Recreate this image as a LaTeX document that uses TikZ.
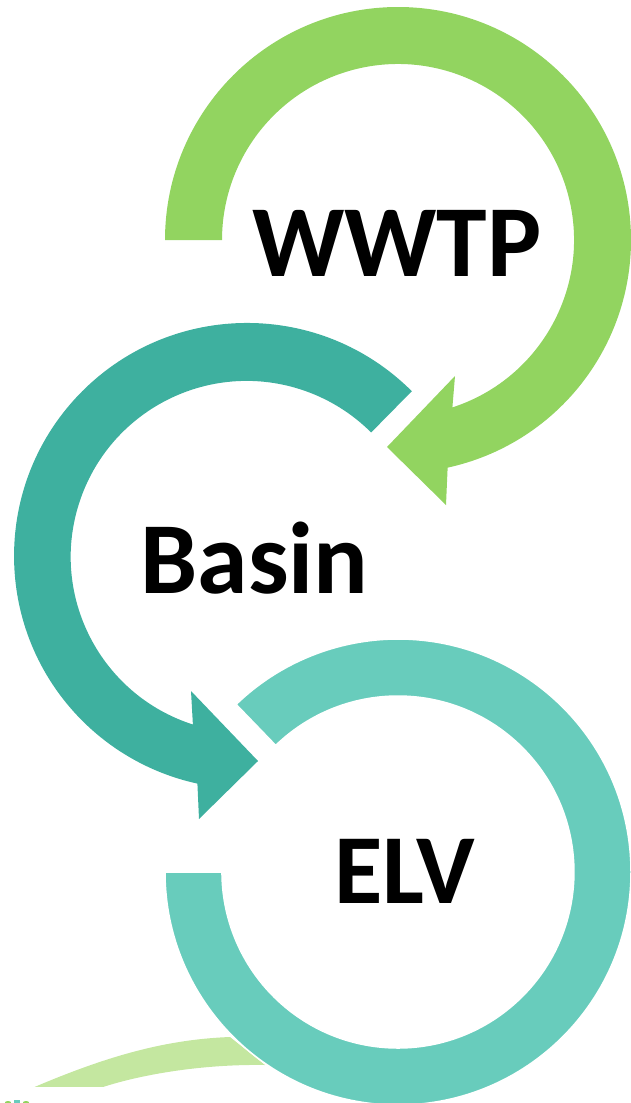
\documentclass[tikz,border=0pt]{standalone}
\usepackage{fontspec}
\setmainfont{Carlito}
\definecolor{gcol}{HTML}{92D460}
\definecolor{tcol}{HTML}{3EB09F}
\definecolor{ltcol}{HTML}{68CCBC}
\definecolor{lgcol}{HTML}{C4E7A0}
\tikzset{
  lbl/.style={inner sep=0pt, anchor=base, font=\bfseries\fontsize{#1}{#1}\selectfont, text=black},
}
\begin{document}
\begin{tikzpicture}[x=1pt,y=-1pt]
\useasboundingbox (0,0) rectangle (631,1103);
\clip (0,0) rectangle (631,1103);
% WWTP ring (green)
\fill[gcol] (165,240) arc[start angle=180, end angle=437.7, radius=233]
  -- (446,505) -- (387,447) -- (455,376) -- (452.4,407.4)
  arc[start angle=432, end angle=180, radius=176] -- cycle;
% Basin ring (teal)
\fill[tcol] (411.8,391.2) arc[start angle=-45, end angle=-257.7, radius=233]
  -- (199,819) -- (258,761) -- (191,691) -- (192.9,724.5)
  arc[start angle=-252.2, end angle=-45, radius=176] -- cycle;
% light green band at bottom
\fill[lgcol] (-17,1110) .. controls (80,1065) and (150,1040) .. (230,1037)
  -- (265,1065) .. controls (200,1064) and (140,1075) .. (103,1087)
  -- (70,1110) -- cycle;
% ELV ring (light teal)
\filldraw[ltcol, draw=white, line width=1.5] (165,872) arc[start angle=180, end angle=-134, radius=233]
  -- (275.7,745.4)
  arc[start angle=-134, end angle=180, radius=176] -- cycle;
% small cropped box at bottom left
\fill[white] (0,1087) rectangle (135,1104);
\fill[gcol] (8,1102.5) ellipse[x radius=3, y radius=1.5];
\fill[ltcol] (14,1100) rectangle (20,1104);
\fill[gcol] (26,1102.5) ellipse[x radius=3, y radius=1.5];
% labels
\node[lbl=102] (wwtp) at (397,276) {WWTP};
\node[lbl=102] (basin) at (254.5,593) {Basin};
\node[lbl=99] (elv) at (405,903) {ELV};
\end{tikzpicture}
\end{document}
